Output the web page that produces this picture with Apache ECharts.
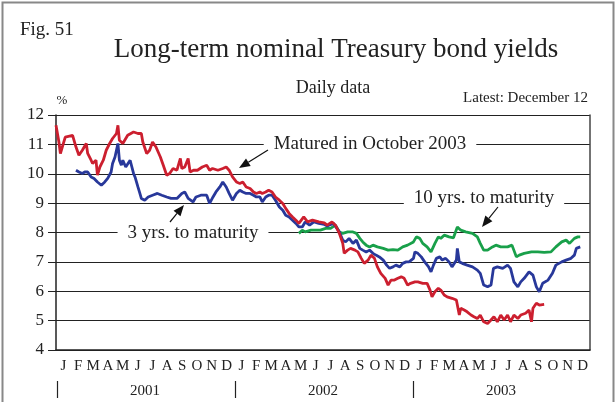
<!DOCTYPE html>
<html>
<head>
<meta charset="utf-8">
<script src="https://cdn.jsdelivr.net/npm/echarts@6/dist/echarts.min.js"></script>
<style>
html, body { margin: 0; padding: 0; background: #fff; }
#chart { width: 616px; height: 402px; }
</style>
</head>
<body>
<div id="chart"></div>
<script>
// month letters and year labels under the axis
var monthLetters = ['J','F','M','A','M','J','J','A','S','O','N','D'];
var months = monthLetters.concat(monthLetters, monthLetters);
var years = ['2001', '2002', '2003'];
var yMin = 4, yMax = 12, yStep = 1;

// Matured in October 2003 (red)
var maturedDates = ['2001-01-01','2001-01-07','2001-01-10','2001-01-20','2001-02-04','2001-02-11','2001-02-17','2001-02-24','2001-03-04','2001-03-07','2001-03-14','2001-03-17','2001-03-24','2001-03-27','2001-04-01','2001-04-08','2001-04-14','2001-04-21','2001-04-27','2001-05-05','2001-05-08','2001-05-11','2001-05-18','2001-05-28','2001-06-09','2001-06-18','2001-06-25','2001-06-28','2001-07-06','2001-07-12','2001-07-18','2001-07-25','2001-08-03','2001-08-09','2001-08-16','2001-08-22','2001-08-29','2001-09-06','2001-09-13','2001-09-16','2001-09-22','2001-09-29','2001-10-03','2001-10-10','2001-10-18','2001-10-28','2001-11-06','2001-11-12','2001-11-18','2001-11-29','2001-12-09','2001-12-16','2001-12-22','2001-12-29',
  '2002-01-06','2002-01-13','2002-01-19','2002-01-26','2002-02-03','2002-02-10','2002-02-16','2002-02-23','2002-02-28','2002-03-07','2002-03-13','2002-03-20','2002-03-27','2002-04-04','2002-04-11','2002-04-17','2002-04-24','2002-05-01','2002-05-08','2002-05-14','2002-05-17','2002-05-24','2002-06-01','2002-06-11','2002-06-24','2002-07-05','2002-07-11','2002-07-21','2002-07-28','2002-08-05','2002-08-12','2002-08-15','2002-08-22','2002-08-28','2002-09-06','2002-09-12','2002-09-19','2002-09-25','2002-10-03','2002-10-09','2002-10-16','2002-10-22','2002-10-29','2002-11-07','2002-11-13','2002-11-19','2002-11-26','2002-12-03','2002-12-10','2002-12-16','2002-12-23','2002-12-29',
  '2003-01-07','2003-01-13','2003-01-23','2003-02-01','2003-02-07','2003-02-11','2003-02-17','2003-02-24','2003-03-01','2003-03-08','2003-03-14','2003-03-24','2003-04-02','2003-04-04','2003-04-08','2003-04-11','2003-04-18','2003-04-24','2003-05-02','2003-05-08','2003-05-15','2003-05-21','2003-05-28','2003-06-05','2003-06-12','2003-06-18','2003-06-25','2003-07-02','2003-07-09','2003-07-16','2003-07-22','2003-07-29','2003-08-06','2003-08-12','2003-08-22','2003-08-29','2003-09-03','2003-09-06','2003-09-13','2003-09-19','2003-09-29'];
var maturedYields = [11.65,11.08,10.69,11.25,11.31,10.91,10.63,10.80,11.03,10.69,10.46,10.35,10.46,9.95,10.23,10.46,10.80,11.03,11.20,11.37,11.65,11.14,11.03,11.31,11.42,11.37,11.37,11.08,10.69,10.80,11.08,10.91,10.57,10.29,9.95,10.01,10.18,10.12,10.52,10.18,10.23,10.52,10.06,10.12,10.12,10.23,10.29,10.12,10.18,10.12,10.18,10.23,10.12,9.89,
  9.72,9.67,9.72,9.55,9.50,9.38,9.33,9.38,9.33,9.38,9.44,9.38,9.21,9.10,8.99,8.82,8.65,8.53,8.42,8.31,8.25,8.53,8.36,8.42,8.36,8.33,8.25,8.36,8.25,7.97,7.63,7.29,7.40,7.46,7.40,7.34,7.12,6.95,7.06,7.23,7.12,6.83,6.61,6.44,6.21,6.38,6.38,6.44,6.49,6.44,6.21,6.27,
  6.32,6.32,6.27,6.27,6.04,5.81,5.98,6.10,6.04,5.87,5.81,5.76,5.70,5.64,5.19,5.42,5.36,5.30,5.19,5.13,5.07,5.19,4.96,4.90,5.02,5.13,4.96,5.19,5.02,5.19,4.96,5.19,5.07,5.19,5.25,5.36,4.96,5.42,5.59,5.53,5.55];

// 3 yrs. to maturity (blue)
var threeYrDates = ['2001-02-11','2001-02-17','2001-02-24','2001-03-01','2001-03-07','2001-03-14','2001-03-20','2001-03-27','2001-04-04','2001-04-11','2001-04-17','2001-04-24','2001-04-27','2001-05-02','2001-05-05','2001-05-08','2001-05-11','2001-05-15','2001-05-18','2001-05-24','2001-06-02','2001-06-09','2001-06-12','2001-06-18','2001-06-22','2001-06-25','2001-07-02','2001-07-09','2001-07-18','2001-07-28','2001-08-06','2001-08-16','2001-08-25','2001-09-06','2001-09-16','2001-09-22','2001-09-29','2001-10-09','2001-10-15','2001-10-25','2001-11-06','2001-11-12','2001-11-19','2001-11-25','2001-12-03','2001-12-09','2001-12-16','2001-12-22','2001-12-29',
  '2002-01-06','2002-01-13','2002-01-19','2002-01-26','2002-02-03','2002-02-10','2002-02-16','2002-02-23','2002-02-28','2002-03-07','2002-03-13','2002-03-20','2002-03-27','2002-04-04','2002-04-11','2002-04-17','2002-04-24','2002-05-01','2002-05-08','2002-05-14','2002-05-21','2002-05-27','2002-06-05','2002-06-14','2002-06-24','2002-07-05','2002-07-11','2002-07-24','2002-08-05','2002-08-12','2002-08-18','2002-08-25','2002-09-02','2002-09-09','2002-09-16','2002-09-22','2002-09-29','2002-10-06','2002-10-13','2002-10-19','2002-10-26','2002-11-03','2002-11-10','2002-11-16','2002-11-23','2002-11-29','2002-12-07','2002-12-13','2002-12-20','2002-12-26',
  '2003-01-04','2003-01-07','2003-01-13','2003-01-20','2003-01-27','2003-02-04','2003-02-09','2003-02-14','2003-02-20','2003-02-27','2003-03-04','2003-03-11','2003-03-18','2003-03-24','2003-04-02','2003-04-04','2003-04-08','2003-04-14','2003-04-24','2003-05-05','2003-05-15','2003-05-21','2003-05-28','2003-06-05','2003-06-12','2003-06-17','2003-06-25','2003-07-06','2003-07-16','2003-07-22','2003-07-29','2003-08-06','2003-08-12','2003-08-19','2003-08-29','2003-09-06','2003-09-13','2003-09-19','2003-09-26','2003-10-07','2003-10-16','2003-10-23','2003-11-04','2003-11-13','2003-11-23','2003-11-30','2003-12-04','2003-12-08','2003-12-12'];
var threeYrYields = [10.12,10.06,10.01,10.06,10.06,9.89,9.84,9.72,9.61,9.72,9.84,10.06,10.35,10.57,10.52,11.03,10.46,10.29,10.46,10.23,10.46,10.01,9.89,9.55,9.33,9.16,9.10,9.21,9.27,9.33,9.27,9.21,9.16,9.16,9.33,9.38,9.16,9.04,9.21,9.27,9.27,8.99,9.21,9.38,9.55,9.72,9.55,9.33,9.10,
  9.33,9.44,9.38,9.33,9.33,9.27,9.21,9.21,9.04,9.21,9.27,9.27,9.10,8.87,8.76,8.59,8.53,8.42,8.31,8.19,8.19,8.36,8.25,8.36,8.31,8.28,8.22,8.31,8.02,7.74,7.68,7.80,7.63,7.74,7.46,7.40,7.34,7.40,7.29,7.23,7.17,7.06,6.89,6.78,6.83,6.89,6.83,6.95,7.00,7.00,
  7.12,7.34,7.29,7.17,7.00,6.83,6.66,6.89,7.12,7.17,7.06,7.12,7.00,6.83,7.06,7.46,7.00,6.95,6.89,6.83,6.72,6.61,6.21,6.15,6.21,6.78,6.83,6.78,6.89,6.78,6.32,6.15,6.32,6.44,6.66,6.55,6.15,5.98,6.27,6.38,6.61,6.89,7.00,7.06,7.12,7.23,7.46,7.40,7.51];

// 10 yrs. to maturity (green)
var tenYrDates = ['2002-05-14','2002-05-21','2002-05-27','2002-06-08','2002-06-18','2002-06-27','2002-07-08','2002-07-18','2002-07-28','2002-08-05','2002-08-12','2002-08-22','2002-09-02','2002-09-09','2002-09-16','2002-09-22','2002-09-29','2002-10-06','2002-10-13','2002-10-22','2002-11-03','2002-11-13','2002-11-23','2002-12-03','2002-12-13','2002-12-23',
  '2003-01-04','2003-01-10','2003-01-17','2003-01-23','2003-02-01','2003-02-09','2003-02-17','2003-02-24','2003-03-01','2003-03-08','2003-03-18','2003-03-27','2003-04-04','2003-04-11','2003-04-21','2003-05-05','2003-05-15','2003-05-21','2003-05-28','2003-06-05','2003-06-15','2003-06-22','2003-07-02','2003-07-16','2003-07-25','2003-08-03','2003-08-09','2003-08-19','2003-09-03','2003-09-16','2003-09-29','2003-10-13','2003-10-23','2003-11-04','2003-11-13','2003-11-20','2003-11-30','2003-12-07','2003-12-12'];
var tenYrYields = [7.97,8.08,8.02,8.08,8.08,8.08,8.14,8.14,8.25,8.02,7.97,8.02,8.02,7.97,7.80,7.68,7.57,7.51,7.57,7.51,7.46,7.40,7.42,7.40,7.51,7.57,
  7.68,7.85,7.80,7.63,7.51,7.34,7.63,7.85,7.80,7.91,7.85,7.82,8.19,8.08,8.02,7.97,7.85,7.63,7.40,7.40,7.51,7.57,7.51,7.51,7.57,7.17,7.23,7.29,7.34,7.34,7.32,7.34,7.51,7.68,7.74,7.63,7.80,7.85,7.85];

function pairs(dates, values) {
    return dates.map(function (d, i) { return [d, values[i]]; });
}

var serif = 'Liberation Serif';
var chart = echarts.init(document.getElementById('chart'));

var option = {
    backgroundColor: '#fff',
    animation: false,
    grid: { left: 56, right: 26, top: 115, bottom: 52 },
    xAxis: [
        {
            // time axis carrying the data
            type: 'time',
            min: '2001-01-01',
            max: '2004-01-01',
            axisLine: { show: true, lineStyle: { color: '#222', width: 1.5 } },
            axisTick: { show: false },
            axisLabel: { show: false },
            splitLine: { show: false }
        },
        {
            // month letters
            type: 'category',
            data: months,
            boundaryGap: true,
            position: 'bottom',
            axisLine: { show: false },
            axisTick: { show: false },
            axisLabel: { interval: 0, fontFamily: serif, fontSize: 15, color: '#222', margin: 9 }
        },
        {
            // years
            type: 'category',
            data: years,
            boundaryGap: true,
            position: 'bottom',
            axisLine: { show: false },
            axisTick: { show: false },
            axisLabel: { interval: 0, fontFamily: serif, fontSize: 15, color: '#222', margin: 34 }
        }
    ],
    yAxis: [
        {
            type: 'value',
            min: yMin,
            max: yMax,
            interval: yStep,
            axisLine: { show: true, lineStyle: { color: '#222', width: 1.5 } },
            axisTick: { show: true, length: 8, lineStyle: { color: '#222' } },
            axisLabel: { fontFamily: serif, fontSize: 17, color: '#222', margin: 12 },
            splitLine: { show: true, lineStyle: { color: '#222', width: 1 } }
        },
        {
            // right frame
            type: 'value',
            position: 'right',
            min: yMin,
            max: yMax,
            interval: yStep,
            axisLine: { show: true, lineStyle: { color: '#444', width: 1.5 } },
            axisTick: { show: false },
            axisLabel: { show: false },
            splitLine: { show: false }
        }
    ],
    series: [
        {
            name: '10 yrs. to maturity',
            type: 'line',
            showSymbol: false,
            data: pairs(tenYrDates, tenYrYields),
            lineStyle: { color: '#19A04A', width: 2.8 },
            itemStyle: { color: '#19A04A' }
        },
        {
            name: '3 yrs. to maturity',
            type: 'line',
            showSymbol: false,
            data: pairs(threeYrDates, threeYrYields),
            lineStyle: { color: '#28389A', width: 2.8 },
            itemStyle: { color: '#28389A' }
        },
        {
            name: 'Matured in October 2003',
            type: 'line',
            showSymbol: false,
            data: pairs(maturedDates, maturedYields),
            lineStyle: { color: '#CC1F2F', width: 2.8 },
            itemStyle: { color: '#CC1F2F' }
        }
    ]
};
chart.setOption(option);

// arrow: line plus filled head at (x2, y2)
function arrow(x1, y1, x2, y2) {
    var a = Math.atan2(y2 - y1, x2 - x1);
    var len = 11, half = 4.5;
    var bx = x2 - len * Math.cos(a), by = y2 - len * Math.sin(a);
    var px = -Math.sin(a) * half, py = Math.cos(a) * half;
    return [
        { type: 'line', z: 5, shape: { x1: x1, y1: y1, x2: bx, y2: by }, style: { stroke: '#111', lineWidth: 1.2 } },
        { type: 'polygon', z: 5, shape: { points: [[x2, y2], [bx + px, by + py], [bx - px, by - py]] }, style: { fill: '#111' } }
    ];
}

function label(text, x, y) {
    return {
        type: 'text', z: 3, x: x, y: y,
        style: {
            text: text, fontFamily: serif, fontSize: 19, fill: '#222',
            align: 'center', verticalAlign: 'middle',
            backgroundColor: '#fff', padding: [2, 10]
        }
    };
}

// year separator ticks at the start of each year
var sep = [];
[new Date(2001, 0, 1), new Date(2002, 0, 1), new Date(2003, 0, 1)].forEach(function (d) {
    var x = Math.round(chart.convertToPixel({ xAxisIndex: 0 }, d.getTime())) + 1.5;
    sep.push({ type: 'line', z: 5, shape: { x1: x, y1: 381, x2: x, y2: 398 }, style: { stroke: '#222', lineWidth: 1.2 } });
});

var elements = [
    { type: 'rect', z: 10, shape: { x: 2.5, y: 2.5, width: 611, height: 410 }, style: { fill: 'none', stroke: '#888', lineWidth: 2 } },
    { type: 'text', z: 5, x: 20, y: 21, style: { text: 'Fig. 51', fontFamily: serif, fontSize: 19, fill: '#222' } },
    { type: 'text', z: 5, x: 336, y: 50, style: { text: 'Long-term nominal Treasury bond yields', fontFamily: serif, fontSize: 27, fill: '#222', align: 'center', verticalAlign: 'middle' } },
    { type: 'text', z: 5, x: 333, y: 88, style: { text: 'Daily data', fontFamily: serif, fontSize: 18, fill: '#222', align: 'center', verticalAlign: 'middle' } },
    { type: 'text', z: 5, x: 588, y: 98, style: { text: 'Latest: December 12', fontFamily: serif, fontSize: 15, fill: '#222', align: 'right', verticalAlign: 'middle' } },
    { type: 'text', z: 5, x: 62, y: 101, style: { text: '%', fontFamily: serif, fontSize: 13, fill: '#222', align: 'center', verticalAlign: 'middle' } },
    label('Matured in October 2003', 370, 144),
    label('3 yrs. to maturity', 193, 233),
    label('10 yrs. to maturity', 484, 198)
].concat(
    arrow(268, 150, 239, 168),
    arrow(170, 222, 184, 205),
    arrow(498, 207, 482, 227),
    sep
);

chart.setOption({ graphic: { elements: elements } });
</script>
</body>
</html>
